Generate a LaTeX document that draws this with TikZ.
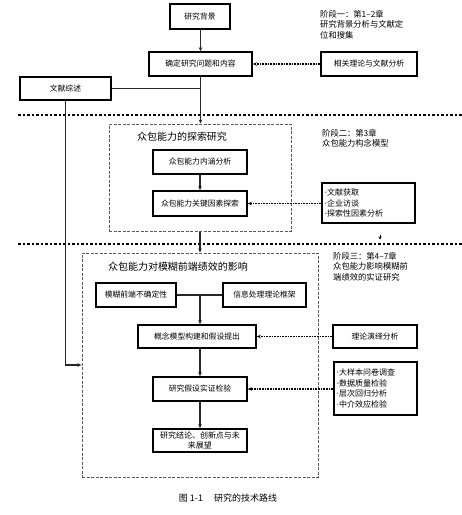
\documentclass[tikz,border=0pt]{standalone}
\usepackage{fontspec}
\setmainfont{Noto Sans CJK SC}
\newfontfamily\latdot{DejaVu Sans}
\newcommand{\itemdot}{{\latdot ·}}
\usetikzlibrary{arrows.meta}
\begin{document}
\begin{tikzpicture}[x=1pt,y=-1pt,
  box/.style={draw=black,line width=1.6pt,rectangle,inner sep=1pt,font=\fontsize{7.8}{10}\selectfont,align=center},
  listbox/.style={draw=black,line width=1.6pt,rectangle,inner sep=1.5pt,font=\fontsize{8}{10.5}\selectfont,align=left},
  dbox/.style={draw=black!65,line width=1pt,dash pattern=on 3pt off 1.5pt,rectangle,inner sep=0pt},
  conn/.style={line width=1.2pt,draw=black!85},
  arr/.style={conn,-{Stealth[length=4pt,width=3.5pt]}},
  darr/.style={line width=1.3pt,dash pattern=on 1pt off 0.6pt,-{Stealth[length=4pt,width=3.5pt]}},
  sepline/.style={line width=1.6pt,dash pattern=on 2.5pt off 2pt},
  phase/.style={anchor=north west,align=left,inner sep=0pt,font=\fontsize{8.3}{10.5}\selectfont},
  ttl/.style={font=\fontsize{10}{12}\selectfont,inner sep=0pt}
]
\useasboundingbox (0,0) rectangle (462,515);

% separator lines
\coordinate (s1a) at (18,115); \coordinate (s1b) at (462,115);
\coordinate (s2a) at (18,244); \coordinate (s2b) at (462,244);
\draw[sepline] (s1a) -- (s1b);
\draw[sepline] (s2a) -- (s2b);

% dashed group boxes
\node[dbox,minimum width=182pt,minimum height=107pt] (box2) at (200,177.5) {};
\node[dbox,minimum width=236pt,minimum height=224pt] (box3) at (200,365) {};

% stage 1
\node[box,minimum width=60pt,minimum height=25pt] (bg) at (200,16.5) {研究背景};
\node[box,minimum width=103pt,minimum height=24pt] (q) at (200.5,64) {确定研究问题和内容};
\node[box,minimum width=96pt,minimum height=24pt] (rel) at (369,64) {相关理论与文献分析};
\node[box,minimum width=91pt,minimum height=23pt] (lit) at (65.5,88.5) {文献综述};
\node[phase] (p1) at (320,10) {阶段一：第1–2章\\研究背景分析与文献定\\位和搜集};

% stage 2
\node[ttl] (t2) at (182,137) {众包能力的探索研究};
\node[box,minimum width=94pt,minimum height=24pt] (c1) at (200,162) {众包能力内涵分析};
\node[box,minimum width=94pt,minimum height=25pt] (c2) at (200,203.5) {众包能力关键因素探索};
\node[listbox,minimum width=93pt,minimum height=40pt,text width=88pt] (l1) at (368.5,203) {\itemdot{}文献获取\\\itemdot{}企业访谈\\\itemdot{}探索性因素分析};
\node[phase] (p2) at (322,129) {阶段二：第3章\\众包能力构念模型};

% stage 3
\node[ttl] (t3) at (178,267) {众包能力对模糊前端绩效的影响};
\node[box,minimum width=80pt,minimum height=24pt] (f1) at (136,295) {模糊前端不确定性};
\node[box,minimum width=83pt,minimum height=24pt] (f2) at (264.5,295) {信息处理理论框架};
\node[box,minimum width=118pt,minimum height=23pt] (m) at (197,336.5) {概念模型构建和假设提出};
\node[box,minimum width=84pt,minimum height=23pt] (th) at (375,336.5) {理论演绎分析};
\node[listbox,minimum width=83pt,minimum height=53pt,text width=78pt] (l2) at (375.5,388.5) {\itemdot{}大样本问卷调查\\\itemdot{}数据质量检验\\\itemdot{}层次回归分析\\\itemdot{}中介效应检验};
\node[box,minimum width=94pt,minimum height=24pt] (h) at (200,389) {研究假设实证检验};
\node[box,minimum width=94pt,minimum height=23pt,font=\fontsize{8}{9.5}\selectfont] (con) at (200,440.5) {研究结论、创新点与未\\来展望};
\node[phase] (p3) at (333,252) {阶段三：第4–7章\\众包能力影响模糊前\\端绩效的实证研究};

% caption
\node[font=\fontsize{9}{11}\selectfont,inner sep=0pt] (cap) at (228,498) {图 1-1\quad\ 研究的技术路线};

% connectors
\draw[arr] (bg.south) -- (q.south |- bg.south) -- (q.north);
\draw[darr] (rel.west) -- (q.east);
\draw[arr] (q.south) -- (q.south |- box2.north);
\draw[conn] (lit.east) -- (q.south |- lit.east);
\coordinate (litend) at (box3.west |- 0,365);
\draw[arr] (lit.south) -- (lit.south |- litend) -- (litend);

\draw[arr] (c1.south) -- (c2.north);
\draw[darr] (l1.west |- c2.east) -- (c2.east);
\draw[arr] (box2.south) -- (box3.north);

\coordinate (fj) at (200,295);
\draw[conn] (f1.east) -- (f2.west);
\draw[arr] (fj) -- (fj |- m.north);
\draw[darr] (th.west) -- (m.east);
\coordinate (mj) at (fj |- m.south);
\draw[arr] (mj) -- (mj |- h.north);
\draw[darr] (l2.west |- h.east) -- (h.east);
\draw[arr] (h.south) -- (con.north);

% small stray arrowhead
\coordinate (st1) at (380,234.5); \coordinate (st2) at (380,239.5);
\draw[line width=0.8pt,-{Stealth[length=3pt,width=3pt]}] (st1) -- (st2);
\end{tikzpicture}
\end{document}
